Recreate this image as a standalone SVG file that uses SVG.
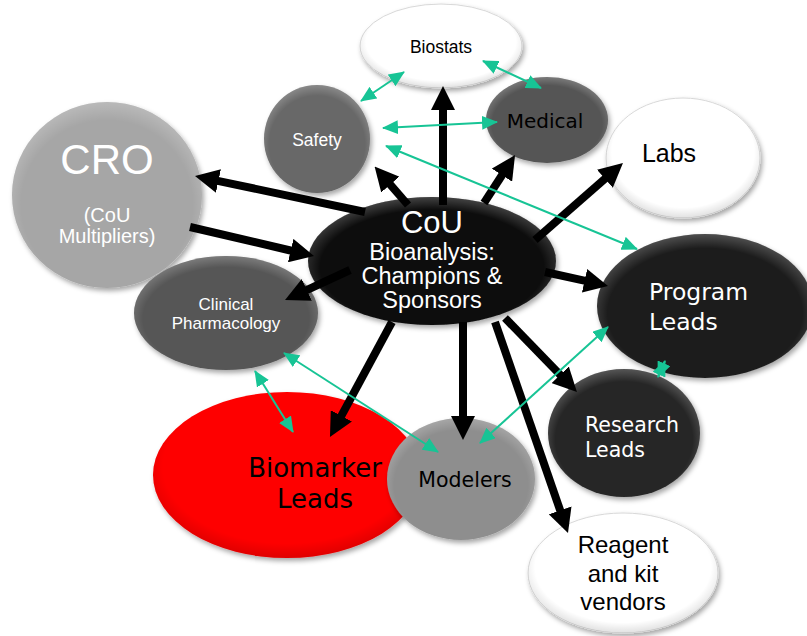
<svg xmlns="http://www.w3.org/2000/svg" width="807" height="636" viewBox="0 0 807 636">
  <defs>
    <filter id="shadow" x="-20%" y="-20%" width="140%" height="150%">
      <feDropShadow dx="2" dy="3" stdDeviation="2.5" flood-color="#000" flood-opacity="0.35"/>
    </filter>
    <!-- soft bevel rim drawn over each bubble -->
    <radialGradient id="rimLight" cx="0.5" cy="0.55" r="0.55">
      <stop offset="0.82" stop-color="#fff" stop-opacity="0"/>
      <stop offset="1" stop-color="#fff" stop-opacity="0.22"/>
    </radialGradient>
    <radialGradient id="rimDark" cx="0.5" cy="0.45" r="0.55">
      <stop offset="0.84" stop-color="#000" stop-opacity="0"/>
      <stop offset="1" stop-color="#000" stop-opacity="0.12"/>
    </radialGradient>
    <marker id="headBlack" viewBox="0 0 24 24" refX="2" refY="12" markerWidth="24" markerHeight="24" markerUnits="userSpaceOnUse" orient="auto">
      <path d="M0,0 L24,12 L0,24 z" fill="#000"/>
    </marker>
    <marker id="headGreen" viewBox="0 0 16 14" refX="15" refY="7" markerWidth="16" markerHeight="14" markerUnits="userSpaceOnUse" orient="auto-start-reverse">
      <path d="M0,0 L16,7 L0,14 z" fill="#17c495"/>
    </marker>
  </defs>
  <style>
    .bubble { filter: url(#shadow); }
    .white { fill: #ffffff; stroke: #d8d8d8; stroke-width: 1; }
    .rimL { fill: url(#rimLight); }
    .rimD { fill: url(#rimDark); }
    .arial { font-family: "Liberation Sans", Arial, sans-serif; }
    .verd { font-family: "DejaVu Sans", Verdana, sans-serif; }
    .mid { text-anchor: middle; }
    .link { stroke: #000; stroke-width: 8; fill: none; marker-end: url(#headBlack); }
    .peer { stroke: #17c495; stroke-width: 2; fill: none; marker-start: url(#headGreen); marker-end: url(#headGreen); }
  </style>

  <rect width="807" height="636" fill="#ffffff"/>

  <g id="biostats">
    <ellipse class="bubble white" cx="441" cy="46" rx="81" ry="42"/>
    <ellipse class="rimD" cx="441" cy="46" rx="81" ry="42"/>
    <text class="arial mid" x="441" y="53" font-size="17.5" fill="#000">Biostats</text>
  </g>

  <g id="safety">
    <ellipse class="bubble" cx="317" cy="139" rx="53" ry="54" fill="#686868"/>
    <ellipse class="rimL" cx="317" cy="139" rx="53" ry="54"/>
    <text class="arial mid" x="317" y="146" font-size="17.5" fill="#fff">Safety</text>
  </g>

  <g id="medical">
    <ellipse class="bubble" cx="547" cy="120" rx="61" ry="43" fill="#555555"/>
    <ellipse class="rimL" cx="547" cy="120" rx="61" ry="43"/>
    <text class="verd mid" x="545" y="128" font-size="20" fill="#000">Medical</text>
  </g>

  <g id="labs">
    <ellipse class="bubble white" cx="683" cy="158" rx="77" ry="60"/>
    <ellipse class="rimD" cx="683" cy="158" rx="77" ry="60"/>
    <text class="arial mid" x="669" y="162" font-size="25" fill="#000">Labs</text>
  </g>

  <g id="cro">
    <ellipse class="bubble" cx="107" cy="195" rx="95" ry="93" fill="#a6a6a6"/>
    <ellipse class="rimL" cx="107" cy="195" rx="95" ry="93"/>
    <text class="arial mid" x="107" y="174" font-size="42" fill="#fff">CRO</text>
    <text class="arial mid" x="107" y="222" font-size="20" fill="#fff">(CoU</text>
    <text class="arial mid" x="107" y="243" font-size="20" fill="#fff">Multipliers)</text>
  </g>

  <g id="clinical-pharmacology">
    <ellipse class="bubble" cx="226" cy="313" rx="92" ry="57" fill="#565656"/>
    <ellipse class="rimL" cx="226" cy="313" rx="92" ry="57"/>
    <text class="arial mid" x="226" y="310" font-size="17" fill="#fff">Clinical</text>
    <text class="arial mid" x="226" y="329" font-size="17" fill="#fff">Pharmacology</text>
  </g>

  <g id="cou">
    <ellipse class="bubble" cx="432" cy="261" rx="124" ry="64" fill="#0c0c0c"/>
    <ellipse class="rimL" cx="432" cy="261" rx="124" ry="64"/>
    <text class="arial mid" x="432" y="233" font-size="31" fill="#fff">CoU</text>
    <text class="arial mid" x="432" y="260" font-size="23.5" fill="#fff">Bioanalysis:</text>
    <text class="arial mid" x="432" y="284" font-size="23.5" fill="#fff">Champions &amp;</text>
    <text class="arial mid" x="432" y="308" font-size="23.5" fill="#fff">Sponsors</text>
  </g>

  <g id="program-leads">
    <ellipse class="bubble" cx="705" cy="306" rx="108" ry="72" fill="#1f1f1f"/>
    <ellipse class="rimL" cx="705" cy="306" rx="108" ry="72"/>
    <text class="verd" x="649" y="300" font-size="23.5" fill="#fff">Program</text>
    <text class="verd" x="649" y="330" font-size="23.5" fill="#fff">Leads</text>
  </g>

  <g id="research-leads">
    <ellipse class="bubble" cx="624" cy="433" rx="76" ry="64" fill="#262626"/>
    <ellipse class="rimL" cx="624" cy="433" rx="76" ry="64"/>
    <text class="verd" x="585" y="432" font-size="20.5" fill="#fff">Research</text>
    <text class="verd" x="585" y="457" font-size="20.5" fill="#fff">Leads</text>
  </g>

  <g id="biomarker-leads">
    <ellipse class="bubble" cx="287" cy="475" rx="134" ry="83" fill="#fe0000"/>
    <ellipse class="rimD" cx="287" cy="475" rx="134" ry="83"/>
    <text class="verd mid" x="315" y="477" font-size="26" fill="#000">Biomarker</text>
    <text class="verd mid" x="315" y="508" font-size="26" fill="#000">Leads</text>
  </g>

  <g id="modelers">
    <ellipse class="bubble" cx="461" cy="479" rx="74" ry="61" fill="#8e8e8e"/>
    <ellipse class="rimL" cx="461" cy="479" rx="74" ry="61"/>
    <text class="verd mid" x="465" y="487" font-size="20.5" fill="#000">Modelers</text>
  </g>

  <g id="reagent-vendors">
    <ellipse class="bubble white" cx="623" cy="573" rx="95" ry="60"/>
    <ellipse class="rimD" cx="623" cy="573" rx="95" ry="60"/>
    <text class="arial mid" x="623" y="553" font-size="24" fill="#000">Reagent</text>
    <text class="arial mid" x="623" y="582" font-size="24" fill="#000">and kit</text>
    <text class="arial mid" x="623" y="610" font-size="24" fill="#000">vendors</text>
  </g>

  <g id="connectors">
    <!-- reporting lines out of the CoU hub -->
    <line class="link" x1="365" y1="212" x2="216.5" y2="180.6"/>
    <line class="link" x1="190" y1="227" x2="292.6" y2="251"/>
    <line class="link" x1="350" y1="270" x2="305" y2="290.8"/>
    <line class="link" x1="408" y1="205" x2="389" y2="183.1"/>
    <line class="link" x1="443" y1="205" x2="443" y2="108"/>
    <line class="link" x1="484" y1="203" x2="503.1" y2="173.5"/>
    <line class="link" x1="535" y1="240" x2="606.4" y2="177.5"/>
    <line class="link" x1="545" y1="272" x2="586.5" y2="281.2"/>
    <line class="link" x1="505" y1="318" x2="561.6" y2="376.2"/>
    <line class="link" x1="495" y1="322" x2="560.8" y2="512.2"/>
    <line class="link" x1="463" y1="322" x2="463" y2="418"/>
    <line class="link" x1="392" y1="322" x2="340.4" y2="417.6"/>

    <!-- two-way peer links -->
    <line class="peer" x1="361" y1="101" x2="404" y2="72"/>
    <line class="peer" x1="483" y1="61" x2="541" y2="88"/>
    <line class="peer" x1="383" y1="128" x2="497" y2="122"/>
    <line class="peer" x1="386" y1="146" x2="637" y2="249"/>
    <line class="peer" x1="480" y1="443" x2="608" y2="327"/>
    <line class="peer" x1="284" y1="353" x2="438" y2="452"/>
    <line class="peer" x1="255" y1="371" x2="293" y2="432"/>
    <line class="peer" x1="665" y1="361" x2="658" y2="377"/>
  </g>
</svg>
